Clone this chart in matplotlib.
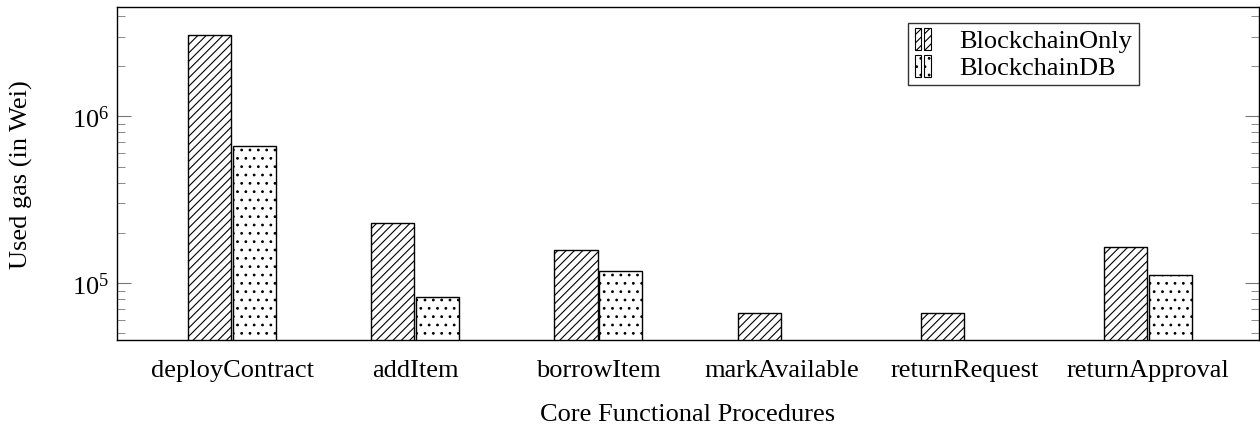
import numpy as np
import matplotlib
matplotlib.use("Agg")
import matplotlib.pyplot as plt
from matplotlib.patches import Rectangle
from matplotlib.legend_handler import HandlerBase

plt.rcParams['font.family'] = ['Liberation Serif', 'DejaVu Serif']
plt.rcParams['mathtext.fontset'] = 'stix'
plt.rcParams['hatch.linewidth'] = 0.8

# data (gas used)
procedures = ['deployContract', 'addItem', 'borrowItem', 'markAvailable',
              'returnRequest', 'returnApproval']
blockchain_only = [3.07e6, 2.29e5, 1.58e5, 6.58e4, 6.58e4, 1.64e5]
blockchain_db = [6.67e5, 8.28e4, 1.18e5, np.nan, np.nan, 1.11e5]

FS = 19


# pgfplots-style legend image: two small bars side by side
class TwoBars(HandlerBase):
    def create_artists(self, legend, orig, xd, yd, width, height, fontsize, trans):
        bw = width * 0.42
        out = []
        for i in range(2):
            r = Rectangle((xd * 0 - xd + i * (width - bw), -yd - height * 0.25),
                          bw, height * 1.3, facecolor='white',
                          edgecolor='black', hatch=orig.get_hatch(),
                          linewidth=0.8, transform=trans)
            out.append(r)
        return out


x = np.arange(len(procedures))
w = 0.235

fig = plt.figure(figsize=(12.6, 4.27), dpi=100)
ax = fig.add_axes([0.0929, 0.2014, 0.9061, 0.7799])

b1 = ax.bar(x - 0.122, blockchain_only, w, color='white', edgecolor='black',
            hatch='////', linewidth=1.0, label='BlockchainOnly')
b2 = ax.bar(x + 0.122, blockchain_db, w, color='white', edgecolor='black',
            hatch='..', linewidth=1.0, label='BlockchainDB')

ax.set_yscale('log')
ax.set_ylim(45500, 4.53e6)
ax.set_xlim(-0.628, 5.606)
ax.set_xticks(x)
ax.set_xticklabels(procedures, fontsize=FS)
ax.tick_params(axis='x', length=0, pad=14)
ax.tick_params(axis='y', which='both', direction='in', left=True, right=True,
               labelsize=FS, color='#777777', pad=6)
ax.tick_params(axis='y', which='major', length=10)
ax.tick_params(axis='y', which='minor', length=6)

ax.set_xlabel('Core Functional Procedures', fontsize=FS)
ax.set_ylabel('Used gas (in Wei)', fontsize=FS)
ax.xaxis.set_label_coords(0.5, -0.19)
ax.yaxis.set_label_coords(-0.074, 0.5)

for s in ax.spines.values():
    s.set_linewidth(1.0)

h1 = Rectangle((0, 0), 1, 1, hatch='////')
h2 = Rectangle((0, 0), 1, 1, hatch='..')
leg = ax.legend([h1, h2], ['BlockchainOnly', 'BlockchainDB'],
                handler_map={Rectangle: TwoBars()},
                loc='upper left', bbox_to_anchor=(0.693, 0.953), fontsize=FS,
                frameon=True, fancybox=False, edgecolor='black',
                handlelength=0.6, handleheight=0.6, handletextpad=1.1,
                borderpad=0.25, labelspacing=0.15, borderaxespad=0)
leg.get_frame().set_linewidth(1.0)

fig.savefig('out.png', dpi=100)
